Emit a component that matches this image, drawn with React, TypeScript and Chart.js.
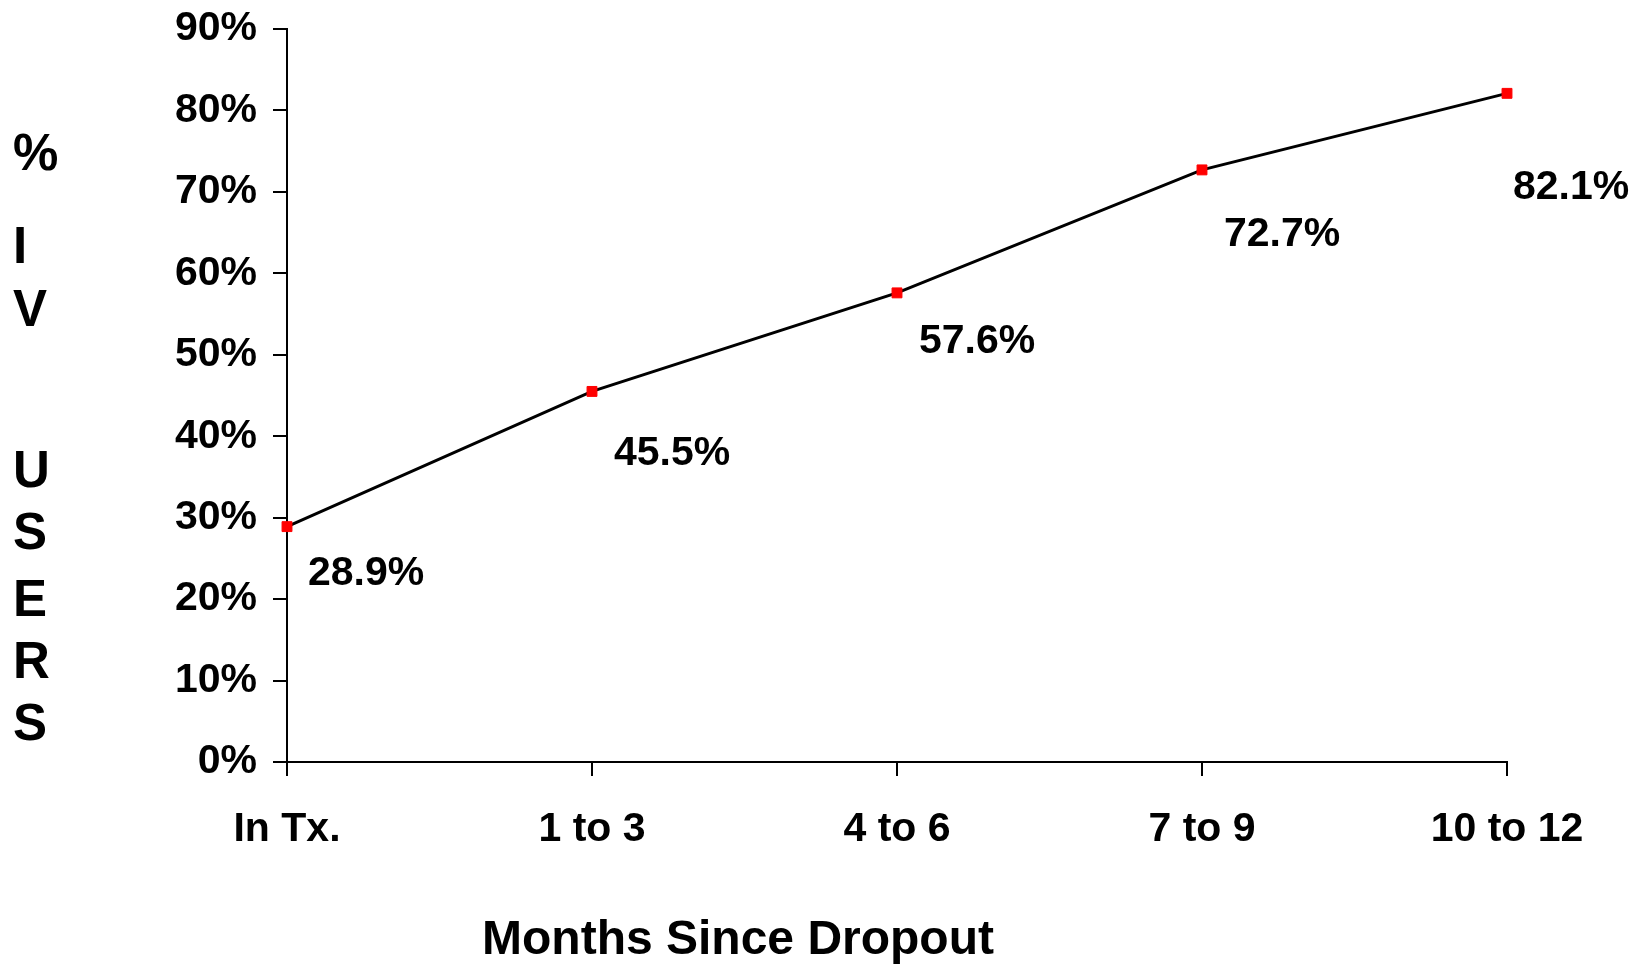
import React, { useEffect, useRef } from "react";
import { Chart, registerables } from "chart.js";

Chart.register(...registerables);

// ---- data ----
const categories: string[] = ["In Tx.", "1 to 3", "4 to 6", "7 to 9", "10 to 12"];
const ivUserPct: number[] = [28.9, 45.5, 57.6, 72.7, 82.1];
const yTickValues: number[] = [0, 10, 20, 30, 40, 50, 60, 70, 80, 90];
const yTitleLetters: string[] = ["%", "I", "V", "U", "S", "E", "R", "S"];
const xTitle = "Months Since Dropout";

// ---- styling / placement ----
const FONT_FAMILY = '"Liberation Sans", Arial, Helvetica, sans-serif';
const LABEL_OFFSETS: [number, number][] = [
  [21, 29],
  [22, 44],
  [22, 31],
  [22, 47],
  [6, 76],
];
const Y_TITLE_CENTERS = [156, 249, 312, 473, 535, 602, 664, 726];

const annotatePlugin = {
  id: "annotate",
  afterDraw(chart: any) {
    const ctx = chart.ctx as CanvasRenderingContext2D;
    const meta = chart.getDatasetMeta(0);
    ctx.save();
    ctx.fillStyle = "#000";
    // data labels
    ctx.font = `bold 41px ${FONT_FAMILY}`;
    ctx.textAlign = "left";
    ctx.textBaseline = "alphabetic";
    meta.data.forEach((pt: any, i: number) => {
      const [dx, dy] = LABEL_OFFSETS[i];
      ctx.fillText(ivUserPct[i].toFixed(1) + "%", pt.x + dx, pt.y + dy + 29.4);
    });
    // y title (stacked letters)
    ctx.font = `bold 51px ${FONT_FAMILY}`;
    ctx.textBaseline = "middle";
    yTitleLetters.forEach((ch, i) => {
      ctx.fillText(ch, 13, Y_TITLE_CENTERS[i]);
    });
    // x title
    ctx.font = `bold 48px ${FONT_FAMILY}`;
    ctx.textAlign = "center";
    ctx.textBaseline = "alphabetic";
    ctx.fillText(xTitle, 738, 954);
    ctx.restore();
  },
};

export default function App() {
  const ref = useRef<HTMLCanvasElement | null>(null);

  useEffect(() => {
    if (!ref.current) return;
    const tickFont = { family: FONT_FAMILY, size: 41, weight: "bold" as const };
    const chart = new Chart(ref.current, {
      type: "line",
      data: {
        labels: categories,
        datasets: [
          {
            data: ivUserPct,
            borderColor: "#000000",
            borderWidth: 3,
            pointStyle: "rect",
            pointRadius: 7,
            pointBackgroundColor: "#ff0000",
            pointBorderColor: "#ff0000",
            pointBorderWidth: 1,
            tension: 0,
            fill: false,
          },
        ],
      },
      options: {
        animation: false,
        responsive: false,
        maintainAspectRatio: false,
        layout: { padding: { left: 0, right: 123, top: 29, bottom: 0 } },
        plugins: {
          legend: { display: false },
          tooltip: { enabled: false },
          title: { display: false },
        },
        scales: {
          x: {
            type: "category",
            offset: false,
            grid: {
              display: true,
              drawOnChartArea: false,
              drawTicks: true,
              tickLength: 14,
              color: "#000",
              lineWidth: 2,
            },
            border: { display: true, color: "#000", width: 2 },
            ticks: {
              font: tickFont,
              color: "#000",
              padding: 29,
              maxRotation: 0,
              autoSkip: false,
            },
            afterFit: (s: any) => {
              s.height = 202;
              s.paddingLeft = 0;
              s.paddingRight = 0;
            },
          },
          y: {
            min: yTickValues[0],
            max: yTickValues[yTickValues.length - 1],
            afterBuildTicks: (s: any) => {
              s.ticks = yTickValues.map((v) => ({ value: v }));
            },
            grid: {
              display: true,
              drawOnChartArea: false,
              drawTicks: true,
              tickLength: 14,
              color: "#000",
              lineWidth: 2,
            },
            border: { display: true, color: "#000", width: 2 },
            ticks: {
              font: tickFont,
              color: "#000",
              padding: 16,
              callback: (v: any) => `${v}%`,
            },
            afterFit: (s: any) => {
              s.width = 287;
              s.paddingTop = 0;
              s.paddingBottom = 0;
            },
          },
        },
      },
      plugins: [annotatePlugin],
    });
    return () => chart.destroy();
  }, []);

  return (
    <div style={{ position: "absolute", left: 0, top: 0, width: 1630, height: 964, background: "#fff" }}>
      <canvas ref={ref} width={1630} height={964} style={{ display: "block", width: 1630, height: 964 }} />
    </div>
  );
}
